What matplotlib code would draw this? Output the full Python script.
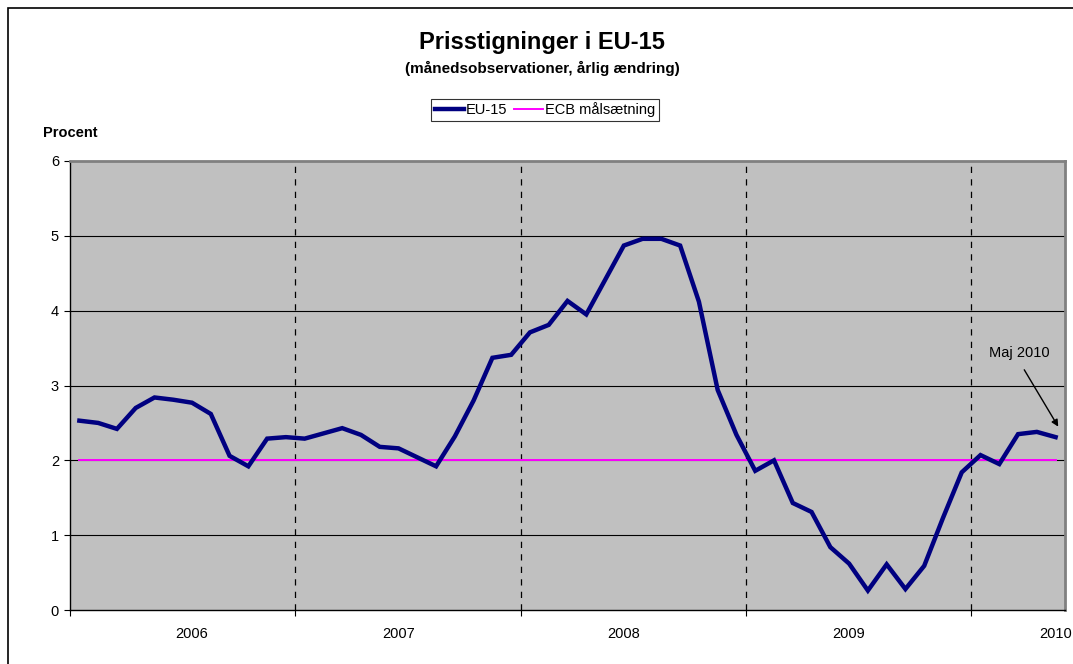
import matplotlib
matplotlib.use("Agg")
import matplotlib.pyplot as plt
from matplotlib.patches import Rectangle

plt.rcParams['font.family'] = ['Liberation Sans', 'DejaVu Sans']

# monthly values, Jan 2006 - May 2010
eu15 = [2.53, 2.50, 2.42, 2.70, 2.84, 2.81, 2.77, 2.62, 2.06, 1.92, 2.29, 2.31,
        2.29, 2.36, 2.43, 2.34, 2.18, 2.16, 2.04, 1.92, 2.32, 2.80, 3.37, 3.41,
        3.71, 3.81, 4.13, 3.95, 4.41, 4.87, 4.96, 4.96, 4.87, 4.12, 2.94, 2.34,
        1.86, 2.00, 1.43, 1.31, 0.84, 0.62, 0.26, 0.61, 0.28, 0.59, 1.23, 1.84,
        2.07, 1.95, 2.35, 2.38, 2.31]
ecb_target = [2.0] * len(eu15)
years = ["2006", "2007", "2008", "2009", "2010"]
year_label_pos = [6, 17, 29, 41, 52]
year_breaks = [11.5, 23.5, 35.5, 47.5]

fig = plt.figure(figsize=(10.73, 6.64), dpi=100)
ax = fig.add_axes([70 / 1073, 54 / 664, 995 / 1073, 449 / 664])
ax.set_facecolor('#c0c0c0')

months = list(range(len(eu15)))
ax.plot(months, eu15, color='#000080', lw=3.2, label='EU-15', zorder=4,
        solid_joinstyle='miter')
ax.plot(months, ecb_target, color='#ff00ff', lw=1.4, label='ECB målsætning', zorder=3)

for yb in year_breaks:
    ax.axvline(yb, color='black', lw=0.9, dashes=(5, 5), zorder=2)
for g in range(1, 6):
    ax.axhline(g, color='black', lw=0.8, zorder=1)

ax.set_xlim(-0.5, len(eu15) - 0.5)
ax.set_ylim(0, 6)
ax.set_yticks(range(0, 7))
ax.tick_params(axis='y', direction='out', length=4, width=0.8, labelsize=10.5, pad=4)

ax.set_xticks([-0.5] + year_breaks)
ax.set_xticklabels([])
ax.tick_params(axis='x', which='major', direction='out', length=4, width=0.8)
ax.set_xticks(year_label_pos, minor=True)
ax.set_xticklabels(years, minor=True)
ax.tick_params(axis='x', which='minor', length=0, labelsize=10.5, pad=12)

for side in ('left', 'bottom'):
    ax.spines[side].set_color('black')
    ax.spines[side].set_linewidth(1.0)
for side in ('top', 'right'):
    ax.spines[side].set_color('#808080')
    ax.spines[side].set_linewidth(2.0)

# annotation for last observation
ax.text(50.05, 3.44, 'Maj 2010', ha='center', va='center', fontsize=10.5)
ax.annotate('', xy=(52.14, 2.45), xytext=(50.33, 3.21),
            arrowprops=dict(arrowstyle='-|>', color='black', lw=1.0,
                            mutation_scale=10, shrinkA=0, shrinkB=0))

fig.text(542 / 1073, 1 - 42 / 664, 'Prisstigninger i EU-15', ha='center', va='center',
         fontsize=17, fontweight='bold')
fig.text(542 / 1073, 1 - 68 / 664, '(månedsobservationer, årlig ændring)', ha='center',
         va='center', fontsize=11, fontweight='bold')
fig.text(43 / 1073, 1 - 133 / 664, 'Procent', ha='left', va='center',
         fontsize=10.5, fontweight='bold')

leg = fig.legend(loc='center', bbox_to_anchor=(545 / 1073, 1 - 110 / 664), ncol=2,
                 fontsize=10.5, frameon=True, fancybox=False, handlelength=2.0,
                 handletextpad=0.1, columnspacing=0.5, borderpad=0.25,
                 borderaxespad=0)
leg.get_frame().set_edgecolor('black')
leg.get_frame().set_linewidth(0.8)

fig.add_artist(Rectangle((8 / 1073, -0.1), 1.2, 1.1 - 8 / 664, transform=fig.transFigure,
                         fill=False, edgecolor='black', lw=1.2))

fig.savefig('out.png', dpi=100)
